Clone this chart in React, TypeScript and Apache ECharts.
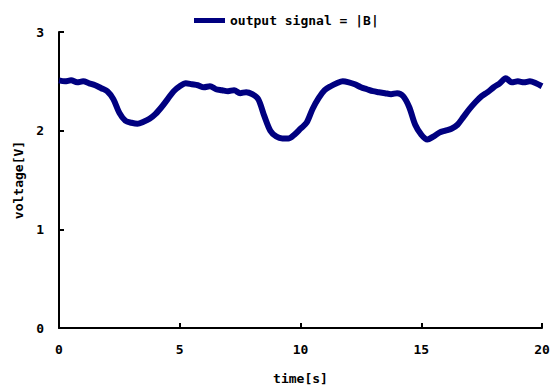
import React, { useEffect, useRef } from "react";
import * as echarts from "echarts";

const timeValues: number[] = [
  0, 0.25, 0.5, 0.75, 1, 1.25, 1.5, 1.75, 2, 2.25, 2.5, 2.75, 3, 3.25, 3.5, 3.75,
  4, 4.25, 4.5, 4.75, 5, 5.25, 5.5, 5.75, 6, 6.25, 6.5, 6.75, 7, 7.25, 7.5, 7.75,
  8, 8.25, 8.5, 8.75, 9, 9.25, 9.5, 9.75, 10, 10.25, 10.5, 10.75, 11, 11.25, 11.5, 11.75,
  12, 12.25, 12.5, 12.75, 13, 13.25, 13.5, 13.75, 14, 14.25, 14.5, 14.75, 15, 15.25, 15.5, 15.75,
  16, 16.25, 16.5, 16.75, 17, 17.25, 17.5, 17.75, 18, 18.25, 18.5, 18.75, 19, 19.25, 19.5, 19.75, 20,
];

const voltageValues: number[] = [
  2.51, 2.5, 2.51, 2.49, 2.5, 2.48, 2.46, 2.43, 2.4, 2.32, 2.18, 2.1, 2.08, 2.07, 2.09, 2.12,
  2.17, 2.24, 2.32, 2.4, 2.45, 2.48, 2.47, 2.46, 2.44, 2.45, 2.42, 2.41, 2.4, 2.41, 2.38, 2.39,
  2.37, 2.32, 2.15, 2.0, 1.94, 1.92, 1.92, 1.96, 2.02, 2.08, 2.22, 2.33, 2.41, 2.45, 2.48, 2.5,
  2.49, 2.47, 2.44, 2.42, 2.4, 2.39, 2.38, 2.37, 2.38, 2.35, 2.24, 2.06, 1.96, 1.91, 1.94, 1.98,
  2.0, 2.02, 2.06, 2.14, 2.22, 2.29, 2.35, 2.39, 2.44, 2.48, 2.53, 2.49, 2.5, 2.49, 2.5, 2.48, 2.45,
];

const seriesName = "output signal = |B|";
const xAxisName = "time[s]";
const yAxisName = "voltage[V]";

const FONT = "DejaVu Sans Mono";

export default function App() {
  const ref = useRef<HTMLDivElement>(null);
  useEffect(() => {
    if (!ref.current) return;
    const chart = echarts.init(ref.current, undefined, { renderer: "svg" });
    const data = timeValues.map((t, i) => [t, voltageValues[i]]);
    chart.setOption({
      animation: false,
      backgroundColor: "#ffffff",
      textStyle: { fontFamily: FONT, fontWeight: "bold", color: "#000" },
      legend: {
        left: 189,
        top: 9,
        itemWidth: 31,
        itemHeight: 5,
        itemGap: 4,
        textStyle: { fontFamily: FONT, fontWeight: "bold", fontSize: 13, color: "#000" },
        data: [{ name: seriesName, icon: "rect" }],
      },
      grid: { left: 59, right: 13, top: 32, bottom: 60, containLabel: false },
      xAxis: {
        type: "value",
        min: 0,
        max: 20,
        interval: 5,
        name: xAxisName,
        nameLocation: "middle",
        nameGap: 44,
        nameTextStyle: { fontFamily: FONT, fontWeight: "bold", fontSize: 13, color: "#000" },
        axisLine: { show: true, lineStyle: { color: "#000", width: 2 } },
        axisTick: { show: true, inside: true, length: 5, lineStyle: { color: "#000", width: 2 } },
        axisLabel: { fontFamily: FONT, fontWeight: "bold", fontSize: 13, color: "#000", margin: 15 },
        splitLine: { show: false },
      },
      yAxis: {
        type: "value",
        min: 0,
        max: 3,
        interval: 1,
        name: yAxisName,
        nameLocation: "middle",
        nameGap: 33,
        nameTextStyle: { fontFamily: FONT, fontWeight: "bold", fontSize: 13, color: "#000" },
        axisLine: { show: true, lineStyle: { color: "#000", width: 2 } },
        axisTick: { show: true, inside: true, length: 5, lineStyle: { color: "#000", width: 2 } },
        axisLabel: { fontFamily: FONT, fontWeight: "bold", fontSize: 13, color: "#000", margin: 15 },
        splitLine: { show: false },
      },
      series: [
        {
          name: seriesName,
          type: "line",
          data,
          showSymbol: false,
          symbol: "none",
          smooth: 0.3,
          lineStyle: { color: "#000080", width: 6 },
          itemStyle: { color: "#000080" },
        },
      ],
    });
    return () => chart.dispose();
  }, []);
  return (
    <div
      ref={ref}
      style={{ position: "absolute", left: 0, top: 0, width: 555, height: 390 }}
    />
  );
}
